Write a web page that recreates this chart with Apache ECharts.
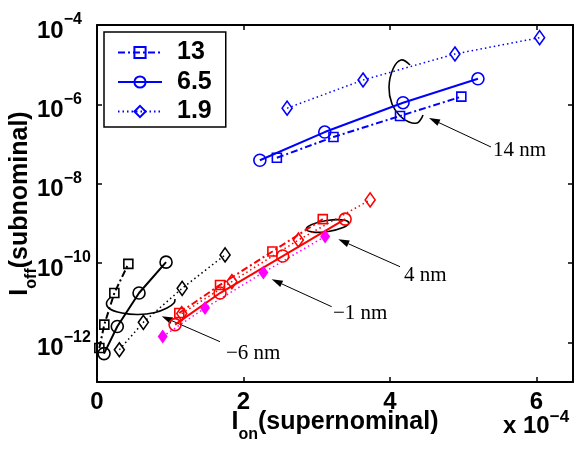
<!DOCTYPE html>
<html>
<head>
<meta charset="utf-8">
<script src="https://cdn.jsdelivr.net/npm/echarts@6/dist/echarts.min.js"></script>
<style>
  html, body { margin: 0; padding: 0; background: #fff; }
  #chart { width: 577px; height: 453px; }
</style>
</head>
<body>
<div id="chart"></div>
<script>
// x in units of 1e-4 (multiplier printed at bottom right), y in A
const xTickVals = [0, 2, 4, 6];
const yTickExps = [-12, -10, -8, -6, -4];
const legendNames = ["13", "6.5", "1.9"];

// 14 nm (blue)
const blue13X = [2.456, 3.229, 4.138, 4.975];
const blue13Y = [4.5e-8, 1.5e-7, 5.1e-7, 1.56e-6];
const blue65X = [2.224, 3.11, 4.179, 5.202];
const blue65Y = [3.9e-8, 2.0e-7, 1.1e-6, 4.4e-6];
const blue19X = [2.596, 3.633, 4.888, 6.044];
const blue19Y = [8.0e-7, 4.1e-6, 1.86e-5, 4.8e-5];

// 4 nm (red)
const red13X = [1.124, 1.68, 2.395, 3.083];
const red13Y = [5.5e-12, 2.8e-11, 1.95e-10, 1.28e-9];
const red65X = [1.066, 1.68, 2.536, 3.388];
const red65Y = [2.8e-12, 1.75e-11, 1.5e-10, 1.28e-9];
const red19X = [1.157, 1.842, 2.75, 3.73];
const red19Y = [5.3e-12, 3.4e-11, 3.8e-10, 3.9e-9];

// -1 nm (magenta)
const magX = [0.897, 1.475, 2.272, 3.115];
const magY = [1.4e-12, 7.3e-12, 5.8e-11, 4.65e-10];

// -6 nm (black)
const blk13X = [0.032, 0.1, 0.237, 0.428];
const blk13Y = [7.2e-13, 2.8e-12, 1.75e-11, 9.5e-11];
const blk65X = [0.096, 0.277, 0.574, 0.943];
const blk65Y = [5.2e-13, 2.5e-12, 1.75e-11, 1.05e-10];
const blk19X = [0.305, 0.633, 1.163, 1.749];
const blk19Y = [6.5e-13, 3.2e-12, 2.3e-11, 1.6e-10];

const SANS = "Liberation Sans";
const SERIF = "Liberation Serif";
const dashDot = [7, 3, 2, 3];
const dots = [1.5, 3];

function zip(xs, ys) {
  return xs.map((x, i) => [x, ys[i]]);
}

function mk(name, xs, ys, color, kind, filled) {
  let symbol = "circle", size = 12, type = "solid", width = 2;
  if (kind === "13") { symbol = "rect"; size = 9; type = dashDot; }
  if (kind === "1.9") { symbol = "diamond"; size = [10, 14]; type = dots; width = 1.5; }
  return {
    name: name,
    type: "line",
    xAxisIndex: 0,
    yAxisIndex: 0,
    data: zip(xs, ys),
    symbol: symbol,
    symbolSize: size,
    showAllSymbol: true,
    lineStyle: { color: color, width: width, type: type },
    itemStyle: {
      color: filled ? color : "rgba(0,0,0,0)",
      borderColor: color,
      borderWidth: filled ? 0 : 1.6,
    },
    emphasis: { disabled: true },
  };
}

function arrow(x1, y1, x2, y2) {
  const dx = x2 - x1, dy = y2 - y1, L = Math.hypot(dx, dy);
  const ux = dx / L, uy = dy / L, len = 11, w = 3.5;
  const bx = x2 - ux * len, by = y2 - uy * len;
  return [
    { type: "line", shape: { x1: x1, y1: y1, x2: bx, y2: by }, style: { stroke: "#000", lineWidth: 1 } },
    {
      type: "polygon",
      shape: { points: [[x2, y2], [bx - uy * w, by + ux * w], [bx + uy * w, by - ux * w]] },
      style: { fill: "#000" },
    },
  ];
}

function note(text, x, y) {
  return {
    type: "text", x: x, y: y,
    style: { text: text, font: "21px '" + SERIF + "'", fill: "#000", verticalAlign: "middle" },
  };
}

const arcStyle = { stroke: "#000", lineWidth: 1.6, fill: null };

let graphics = [
  { type: "polyline", shape: { smooth: 0.4, points: [[410, 65], [401, 60], [393, 69], [389, 87], [392, 104], [400, 116], [409, 122], [417, 123], [421, 119], [423, 115]] }, style: arcStyle },
  { type: "ellipse", shape: { cx: 327.5, cy: 226, rx: 21.5, ry: 5.5 }, rotation: 0.15, originX: 327.5, originY: 226, style: arcStyle },
  { type: "polyline", shape: { smooth: 0.4, points: [[111, 297], [106.5, 303], [110, 309], [122, 313], [138, 314.5], [155, 312.5], [167, 308], [174, 303], [175, 299]] }, style: arcStyle },
  note("14 nm", 493, 150),
  note("4 nm", 404, 275),
  note("\u22121 nm", 333, 313),
  note("\u22126 nm", 226, 353),
  {
    type: "text", x: 503, y: 409,
    style: {
      text: "{b|x 10}{s|\u22124}",
      rich: {
        b: { fontFamily: SANS, fontWeight: "bold", fontSize: 24, lineHeight: 24, padding: [11, 0, 0, 0] },
        s: { fontFamily: SANS, fontWeight: "bold", fontSize: 17, lineHeight: 17, verticalAlign: "top" },
      },
    },
  },
];
graphics = graphics
  .concat(arrow(491, 147, 429, 118))
  .concat(arrow(400, 266.7, 338.3, 239.3))
  .concat(arrow(331.7, 306.7, 271.7, 279.3))
  .concat(arrow(220, 341.7, 161.7, 316.3));

const axisLineStyle = { show: true, lineStyle: { color: "#000", width: 2 } };
const tickStyle = { show: true, inside: true, length: 5, lineStyle: { color: "#000", width: 1.5 } };

const chart = echarts.init(document.getElementById("chart"));
const option = {
  animation: false,
  backgroundColor: "#fff",
  grid: { left: 97, top: 25, width: 476, height: 357, containLabel: false, outerBoundsMode: "none" },
  legend: {
    data: legendNames,
    orient: "vertical",
    left: 104,
    top: 32,
    padding: [8, 14, 3, 13],
    itemWidth: 44,
    itemHeight: 14,
    itemGap: 4.5,
    backgroundColor: "#fff",
    borderColor: "#000",
    borderWidth: 1.5,
    borderRadius: 0,
    selectedMode: false,
    textStyle: { fontFamily: SANS, fontWeight: "bold", fontSize: 25, color: "#000", lineHeight: 24, padding: [0, 0, 0, 10] },
  },
  xAxis: [
    {
      type: "value", position: "bottom", min: 0, max: 6.5, interval: 2,
      axisLine: axisLineStyle, axisTick: tickStyle, splitLine: { show: false },
      axisLabel: {
        margin: 8, color: "#000", fontFamily: SANS, fontWeight: "bold", fontSize: 24, lineHeight: 24,
        formatter: (v) => (xTickVals.includes(v) ? String(v) : ""),
      },
      name: "{b|I}{sub|on}{b|(supernominal)}",
      nameLocation: "middle",
      nameGap: 33,
      nameMoveOverlap: false,
      nameTextStyle: {
        rich: {
          b: { fontFamily: SANS, fontWeight: "bold", fontSize: 25, color: "#000", lineHeight: 28, padding: [0, 0, 14, 0] },
          sub: { fontFamily: SANS, fontWeight: "bold", fontSize: 16, color: "#000", lineHeight: 16, verticalAlign: "bottom" },
        },
      },
    },
    {
      type: "value", position: "top", min: 0, max: 6.5, interval: 2,
      axisLine: axisLineStyle, axisTick: tickStyle, splitLine: { show: false }, axisLabel: { show: false },
    },
  ],
  yAxis: [
    { type: "log", position: "left", min: 1e-13, max: 1e-4, show: false },
    {
      type: "value", position: "left", min: -13, max: -4,
      axisLine: axisLineStyle, axisTick: tickStyle, splitLine: { show: false },
      axisLabel: {
        align: "left", margin: 60,
        formatter: (v) => (yTickExps.includes(v) ? "{b|10}{s|\u2212" + -v + "}" : ""),
        rich: {
          b: { fontFamily: SANS, fontWeight: "bold", fontSize: 24, color: "#000", lineHeight: 26, padding: [12, 0, 0, 0] },
          s: { fontFamily: SANS, fontWeight: "bold", fontSize: 16, color: "#000", lineHeight: 16, verticalAlign: "top" },
        },
      },
      name: "{b|I}{sub|off}{b|(subnominal)}",
      nameLocation: "middle",
      nameRotate: 90,
      nameGap: 57,
      nameMoveOverlap: false,
      nameTextStyle: {
        rich: {
          b: { fontFamily: SANS, fontWeight: "bold", fontSize: 25, color: "#000", lineHeight: 28, padding: [0, 0, 12, 0] },
          sub: { fontFamily: SANS, fontWeight: "bold", fontSize: 16, color: "#000", lineHeight: 16, verticalAlign: "bottom" },
        },
      },
    },
    {
      type: "value", position: "right", min: -13, max: -4,
      axisLine: axisLineStyle, axisTick: tickStyle, splitLine: { show: false }, axisLabel: { show: false },
    },
  ],
  series: [
    mk("13", blue13X, blue13Y, "#0000ff", "13"),
    mk("6.5", blue65X, blue65Y, "#0000ff", "6.5"),
    mk("1.9", blue19X, blue19Y, "#0000ff", "1.9"),
    mk("13 (4 nm)", red13X, red13Y, "#ff0000", "13"),
    mk("6.5 (4 nm)", red65X, red65Y, "#ff0000", "6.5"),
    mk("1.9 (4 nm)", red19X, red19Y, "#ff0000", "1.9"),
    mk("-1 nm", magX, magY, "#ff00ff", "1.9", true),
    mk("13 (-6 nm)", blk13X, blk13Y, "#000000", "13"),
    mk("6.5 (-6 nm)", blk65X, blk65Y, "#000000", "6.5"),
    mk("1.9 (-6 nm)", blk19X, blk19Y, "#000000", "1.9"),
  ],
  graphic: graphics,
};
chart.setOption(option);
</script>
</body>
</html>
